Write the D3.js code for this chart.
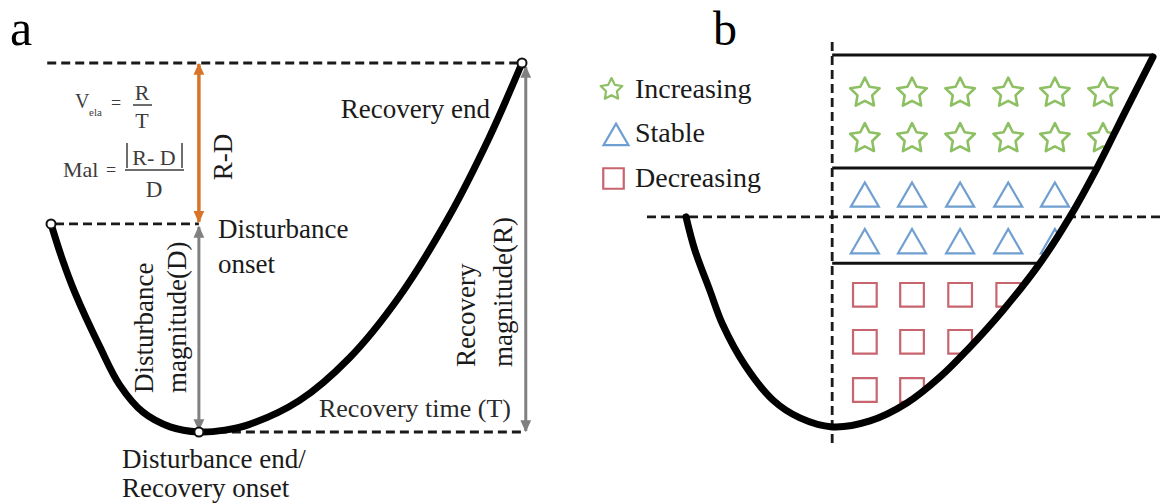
<!DOCTYPE html>
<html><head><meta charset="utf-8">
<script src="https://cdn.jsdelivr.net/npm/d3@7"></script>
<style>body{margin:0;background:#fff}svg{display:block}
svg text{font-family:"Liberation Serif","Times New Roman",Times,Tinos,"Nimbus Roman","Nimbus Roman No9 L",FreeSerif,"DejaVu Serif","Noto Serif",Georgia,serif}</style>
</head><body>
<svg id="c" width="1165" height="504"></svg>
<script>
// ---------- Panel a data (time, value units) ----------
const curveAx = [0, 0.23, 0.51, 1.04, 1.46, 1.95, 2.53, 3.14, 3.69, 4.20, 5.27, 6.33, 7.39, 8.45, 9.30, 10];
const curveAy = [5.64, 4.72, 3.77, 2.30, 1.27, 0.54, 0.14, 0, 0.05, 0.20, 0.85, 2.00, 3.66, 5.84, 7.97, 10];
const onsetT = 0, minT = 3.14, endT = 10;
const D = 5.64, R = 10;

// ---------- Panel b data ----------
const curveBx = [0, 0.19, 0.51, 0.79, 1.26, 1.86, 2.44, 3.13, 3.94, 4.73, 5.44, 6.02, 6.79, 7.58, 8.22, 8.80, 9.40, 10];
const curveBy = [5.66, 4.77, 3.69, 2.76, 1.69, 0.75, 0.27, 0.03, 0.19, 0.67, 1.37, 2.09, 3.16, 4.42, 5.66, 6.97, 8.47, 9.95];
const thresholdB = 5.66;      // horizontal dashed level
const splitT = 3.13;          // vertical dashed time
const classBounds = [10, 6.97, 4.42];
const columns = [3.83, 4.84, 5.87, 6.90, 7.90, 8.93];
const starRows = [8.98, 7.76];
const triRows = [6.15, 4.90];
const squareRows = [3.57, 2.31, 1.02];
const legendLabels = ["Increasing", "Stable", "Decreasing"];
const colors = {inc: "#8cc063", sta: "#6f9fd0", dec: "#c8646e"};

const svg = d3.select("#c");
svg.append("rect").attr("width",1165).attr("height",504).attr("fill","#fff");
const defs = svg.append("defs");
function marker(id, col){
  defs.append("marker").attr("id",id).attr("viewBox","0 0 10 10").attr("refX",9).attr("refY",5)
    .attr("markerUnits","userSpaceOnUse").attr("markerWidth",12).attr("markerHeight",12)
    .attr("orient","auto-start-reverse")
    .append("path").attr("d","M0,0.5L10,5L0,9.5z").attr("fill",col);
}
marker("ao","#d8742a"); marker("ag","#808080");

const starSym = { draw(ctx, size){ const r=Math.sqrt(size), ri=r*0.5;
  for(let i=0;i<10;i++){ const a=-Math.PI/2+i*Math.PI/5, rr=i%2?ri:r;
    const px=rr*Math.cos(a), py=rr*Math.sin(a); i?ctx.lineTo(px,py):ctx.moveTo(px,py);} ctx.closePath(); } };

// ================= Panel a =================
const xa = d3.scaleLinear().domain([0,10]).range([51,522]);
const ya = d3.scaleLinear().domain([0,10]).range([432,63]);
const ga = svg.append("g");
ga.append("text").attr("x",10).attr("y",45).attr("font-size",50).text("a");

const dash = "9,5";
function dl(g,x1,y1,x2,y2){ g.append("line").attr("x1",x1).attr("y1",y1).attr("x2",x2).attr("y2",y2)
  .attr("stroke","#1a1a1a").attr("stroke-width",2.8).attr("stroke-dasharray",dash); }
dl(ga, xa(-0.08), ya(R), xa(endT), ya(R));
dl(ga, xa(onsetT)+4, ya(D), xa(minT), ya(D));
dl(ga, xa(minT)+5, ya(0), xa(10.08), ya(0));

ga.append("line").attr("x1",xa(minT)).attr("x2",xa(minT)).attr("y1",ya(D)-2).attr("y2",ya(R)+1)
  .attr("stroke","#d8742a").attr("stroke-width",3.5).attr("marker-start","url(#ao)").attr("marker-end","url(#ao)");
ga.append("line").attr("x1",xa(minT)).attr("x2",xa(minT)).attr("y1",ya(0)-2).attr("y2",ya(D)+3)
  .attr("stroke","#808080").attr("stroke-width",3).attr("marker-start","url(#ag)").attr("marker-end","url(#ag)");
ga.append("line").attr("x1",xa(10.08)).attr("x2",xa(10.08)).attr("y1",ya(0)-1).attr("y2",ya(R)+4)
  .attr("stroke","#808080").attr("stroke-width",3).attr("marker-start","url(#ag)").attr("marker-end","url(#ag)");

const lineA = d3.line().x(d=>xa(d[0])).y(d=>ya(d[1])).curve(d3.curveCatmullRom.alpha(0.5));
ga.append("path").attr("d",lineA(d3.zip(curveAx,curveAy))).attr("fill","none").attr("stroke","#000").attr("stroke-width",7).attr("stroke-linecap","round");

[[onsetT,D],[minT,0],[endT,R]].forEach(p=>ga.append("circle").attr("cx",xa(p[0])).attr("cy",ya(p[1])).attr("r",4.5)
  .attr("fill","#fff").attr("stroke","#111").attr("stroke-width",2));

const fs=27;
function t(g,x,y,s,size,anchor,col){ return g.append("text").attr("x",x).attr("y",y).attr("font-size",size||fs)
  .attr("text-anchor",anchor||"start").attr("fill",col||"#1a1a1a").text(s); }
t(ga,218,238,"Disturbance"); t(ga,218,273,"onset");
t(ga,490,118,"Recovery end",fs,"end");
t(ga,511,417,"Recovery time (T)",26,"end","#2a2a2a");
t(ga,122,468,"Disturbance end/"); t(ga,122,497,"Recovery onset");
function rt(g,x,y,s,anchor,size){ g.append("text").attr("transform",`translate(${x},${y}) rotate(-90)`)
  .attr("font-size",size||fs).attr("text-anchor",anchor||"start").attr("fill","#1a1a1a").text(s); }
rt(ga,232,157,"R-D","middle");
rt(ga,153,393,"Disturbance"); rt(ga,186,393,"magnitude(D)");
rt(ga,475,367,"Recovery",26); rt(ga,512,367,"magnitude(R)",26);

const fc="#3c3c3c";
t(ga,75,108,"V",20,"start",fc); t(ga,89,116,"ela",11,"start",fc);
t(ga,116,109,"=",18,"middle",fc);
t(ga,142,100,"R",22,"middle",fc);
ga.append("line").attr("x1",133).attr("x2",152).attr("y1",105).attr("y2",105).attr("stroke",fc).attr("stroke-width",1.5);
t(ga,142,128,"T",22,"middle",fc);
t(ga,63,177,"Mal",22,"start",fc);
t(ga,111,176,"=",18,"middle",fc);
t(ga,154,165,"R- D",22,"middle",fc);
[127,182].forEach(x=>ga.append("line").attr("x1",x).attr("x2",x).attr("y1",143).attr("y2",168).attr("stroke",fc).attr("stroke-width",1.5));
ga.append("line").attr("x1",125).attr("x2",184).attr("y1",170).attr("y2",170).attr("stroke",fc).attr("stroke-width",1.5);
t(ga,154,197,"D",23,"middle",fc);

// ================= Panel b =================
const xb = d3.scaleLinear().domain([0,10]).range([686,1153]);
const yb = d3.scaleLinear().domain([0,10]).range([428,55]);
const gb = svg.append("g");
gb.append("text").attr("x",713).attr("y",45).attr("font-size",48).text("b");

const lineB = d3.line().x(d=>xb(d[0])).y(d=>yb(d[1])).curve(d3.curveCatmullRom.alpha(0.5));
const ptsB = d3.zip(curveBx,curveBy);
defs.append("clipPath").attr("id","inside").append("path")
  .attr("d", lineB(ptsB) + `L${xb(10)},0L600,0L600,${yb(thresholdB)}Z`);

const inner = gb.append("g").attr("clip-path","url(#inside)");
classBounds.forEach(v=>inner.append("line").attr("x1",xb(splitT)).attr("x2",1165).attr("y1",yb(v)).attr("y2",yb(v))
  .attr("stroke","#111").attr("stroke-width",3));
const sym = d3.symbol();
starRows.forEach(r=>columns.forEach(c=>inner.append("path").attr("transform",`translate(${xb(c)},${yb(r)})`)
  .attr("d",sym.type(starSym).size(240)()).attr("fill","none").attr("stroke",colors.inc).attr("stroke-width",2.6).attr("stroke-linejoin","round")));
triRows.forEach(r=>columns.slice(0,5).forEach(c=>inner.append("path").attr("transform",`translate(${xb(c)},${yb(r)})`)
  .attr("d",sym.type(d3.symbolTriangle).size(340)()).attr("fill","none").attr("stroke",colors.sta).attr("stroke-width",2.2)));
squareRows.forEach((r,i)=>columns.slice(0,4-i).forEach(c=>inner.append("path").attr("transform",`translate(${xb(c)},${yb(r)})`)
  .attr("d",sym.type(d3.symbolSquare).size(560)()).attr("fill","none").attr("stroke",colors.dec).attr("stroke-width",2.2)));

dl(gb, xb(splitT), yb(10.35), xb(splitT), yb(-0.42));
dl(gb, 647, yb(thresholdB), 1165, yb(thresholdB));
gb.append("path").attr("d",lineB(ptsB)).attr("fill","none").attr("stroke","#000").attr("stroke-width",7).attr("stroke-linecap","round");

const lg = gb.append("g");
lg.append("path").attr("transform","translate(611.5,89.5)").attr("d",sym.type(starSym).size(130)())
  .attr("fill","none").attr("stroke",colors.inc).attr("stroke-width",2.2).attr("stroke-linejoin","round");
lg.append("path").attr("transform","translate(616,138)").attr("d",sym.type(d3.symbolTriangle).size(270)())
  .attr("fill","none").attr("stroke",colors.sta).attr("stroke-width",2.2);
lg.append("path").attr("transform","translate(613.5,178.5)").attr("d",sym.type(d3.symbolSquare).size(420)())
  .attr("fill","none").attr("stroke",colors.dec).attr("stroke-width",2.2);
[98,142,187].forEach((y,i)=>t(lg,635,y,legendLabels[i],28));
</script>
</body></html>
